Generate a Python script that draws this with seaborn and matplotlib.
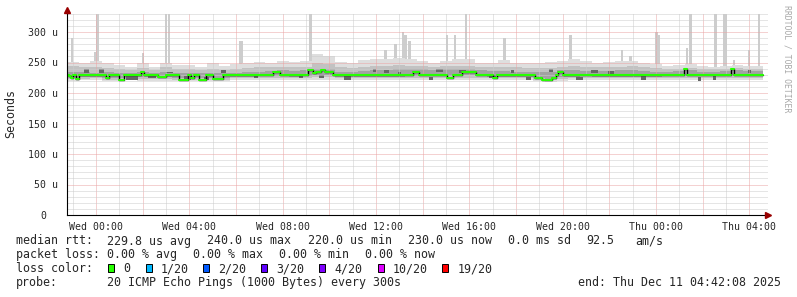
import numpy as np
import pandas as pd
import matplotlib
matplotlib.use("Agg")
import matplotlib.pyplot as plt
import seaborn as sns
from matplotlib.ticker import MultipleLocator, FixedLocator
from matplotlib.transforms import ScaledTranslation

# ---------------- data (hours relative to Wed 00:00, values in microseconds) ----------------
bin_start_hours = np.arange(-1.25, 28.75, 0.5)   # 30-minute smoke bins
data_end_hour = 28.6

light_lo = [220, 221, 221, 219, 219, 221, 220, 220, 220, 220,
            219, 219, 219, 220, 221, 221, 222, 222, 222, 221,
            222, 222, 222, 221, 221, 221, 221, 221, 221, 222,
            222, 222, 222, 222, 222, 222, 221, 221, 221, 221,
            219, 218, 220, 221, 222, 221, 221, 221, 221, 221,
            221, 222, 222, 222, 222, 222, 222, 222, 222, 222]
light_hi = [251, 250, 252, 249, 246, 243, 249, 243, 250, 246,
            246, 243, 249, 244, 247, 249, 251, 250, 252, 251,
            253, 264, 260, 251, 250, 254, 255, 256, 258, 256,
            252, 250, 252, 256, 255, 250, 250, 254, 250, 249,
            250, 251, 253, 256, 252, 250, 251, 252, 253, 250,
            248, 244, 246, 247, 244, 243, 245, 246, 245, 244]
mid_lo = [223, 223, 224, 222, 222, 224, 223, 223, 223, 222,
          222, 222, 222, 222, 224, 224, 225, 225, 225, 224,
          225, 226, 226, 224, 224, 224, 224, 224, 224, 225,
          225, 225, 225, 225, 225, 225, 224, 224, 224, 224,
          222, 221, 223, 224, 225, 224, 224, 224, 224, 224,
          224, 225, 225, 225, 225, 225, 225, 225, 225, 225]
mid_hi = [244, 242, 243, 241, 240, 238, 241, 238, 242, 240,
          239, 238, 240, 238, 240, 241, 242, 242, 243, 242,
          243, 250, 248, 242, 241, 243, 244, 245, 246, 245,
          244, 243, 244, 245, 245, 243, 242, 243, 242, 241,
          241, 241, 243, 244, 243, 242, 242, 243, 244, 242,
          241, 239, 240, 241, 239, 239, 240, 241, 240, 240]
dark_lo = [225, 226, 227, 225, 224, 227, 226, 226, 226, 225,
           224, 224, 224, 225, 227, 227, 228, 228, 228, 227,
           228, 230, 229, 227, 227, 227, 227, 227, 227, 228,
           228, 228, 228, 228, 229, 228, 227, 227, 227, 227,
           224, 223, 226, 227, 228, 227, 227, 227, 227, 227,
           227, 228, 228, 228, 228, 228, 228, 228, 228, 228]
dark_hi = [235, 234, 233, 235, 233, 232, 235, 233, 234, 233,
           232, 232, 233, 232, 233, 234, 235, 236, 237, 236,
           238, 240, 239, 235, 235, 236, 237, 238, 239, 239,
           239, 238, 239, 240, 240, 238, 236, 236, 235, 235,
           234, 234, 237, 237, 236, 236, 236, 237, 237, 236,
           235, 235, 236, 237, 235, 235, 236, 237, 236, 236]

# darkest smoke patches: start hour, end hour, low, high
patch_start = [-0.50, 0.14, 1.29, 2.21, 3.00, 3.79, 4.64, 5.36, 6.79, 8.71,
               9.57, 10.64, 11.86, 12.36, 12.93, 14.29, 14.57, 15.57, 16.86, 17.79,
               18.43, 19.43, 20.57, 21.21, 21.93, 23.36, 25.79, 26.43, 27.93]
patch_end = [-0.29, 0.36, 1.79, 2.57, 3.29, 4.07, 4.86, 5.57, 6.93, 8.86,
             9.79, 10.93, 12.00, 12.57, 13.07, 14.43, 14.86, 15.86, 17.14, 17.93,
             18.64, 19.57, 20.86, 21.50, 22.21, 23.57, 25.93, 26.57, 28.07]
patch_lo = [232, 232, 221, 224, 232, 222, 221, 232, 224, 224,
            224, 221, 235, 232, 231, 221, 235, 232, 224, 232,
            221, 235, 222, 232, 231, 221, 220, 221, 232]
patch_hi = [239, 239, 228, 230, 235, 228, 227, 238, 228, 228,
            229, 228, 240, 238, 235, 227, 240, 238, 229, 238,
            227, 240, 227, 238, 236, 228, 227, 228, 238]

spike_hours = [-1.03, -0.02, 0.06, 2.01, 3.0, 3.13, 6.17, 6.26, 9.2, 12.41,
               12.84, 13.16, 13.27, 13.44, 15.04, 15.39, 15.86, 17.51, 20.34, 22.55,
               22.91, 24.02, 24.13, 25.33, 25.48, 26.55, 26.91, 26.99, 27.33, 27.99, 28.42]
spike_tops = [290, 268, 330, 265, 330, 330, 285, 285, 330, 270,
              280, 300, 295, 285, 295, 295, 330, 290, 295, 270,
              260, 300, 295, 274, 330, 330, 330, 330, 254, 270, 330]

median_change_hours = [-1.243, -1.17, -1.07, -0.97, -0.86, -0.74, 0.43, 0.56, 1.0, 1.2,
                       1.93, 2.06, 2.64, 3.0, 3.56, 3.94, 4.07, 4.2, 4.4, 4.7,
                       5.0, 5.44, 7.6, 7.9, 9.1, 9.3, 9.45, 9.65, 9.8, 10.15,
                       13.6, 13.85, 15.05, 15.3, 15.7, 16.3, 17.0, 17.2, 18.8, 19.1,
                       19.4, 19.55, 19.7, 19.8, 20.0, 25.2, 25.35, 27.2, 27.35]
median_values = [230, 228, 224, 229, 223, 230, 225, 230, 221, 230,
                 235, 230, 227, 230, 222, 230, 224, 230, 222, 230,
                 223, 230, 235, 230, 237, 233, 235, 238, 235, 230,
                 235, 230, 225, 230, 235, 230, 225, 230, 224, 222,
                 221, 225, 230, 235, 230, 239, 230, 239, 230]

x_tick_hours = [0, 4, 8, 12, 16, 20, 24, 28]
x_tick_labels = ["Wed 00:00", "Wed 04:00", "Wed 08:00", "Wed 12:00",
                 "Wed 16:00", "Wed 20:00", "Thu 00:00", "Thu 04:00"]
y_ticks = [0, 50, 100, 150, 200, 250, 300]
y_tick_labels = ["0", "50 u", "100 u", "150 u", "200 u", "250 u", "300 u"]

rtt_items = ["median rtt:", "229.8 us avg", "240.0 us max", "220.0 us min",
             "230.0 us now", "0.0 ms sd", "92.5", "am/s"]
loss_items = ["packet loss:", "0.00 % avg", "0.00 % max", "0.00 % min", "0.00 % now"]
loss_labels = ["0", "1/20", "2/20", "3/20", "4/20", "10/20", "19/20"]
loss_colors = ["#26ff00", "#00b8ff", "#0059ff", "#5e00ff", "#7e00ff", "#dd00ff", "#ff0000"]
probe_text = "20 ICMP Echo Pings (1000 Bytes) every 300s"
end_text = "end: Thu Dec 11 04:42:08 2025"

# ---------------- figure ----------------
sns.set_style("white")
plt.rcParams["font.family"] = ["DejaVu Sans Mono"]

W, H = 797, 297
fig = plt.figure(figsize=(W / 100, H / 100), dpi=100)
fig.patch.set_facecolor("white")

def fx(px):
    return px / W

def fy(py):
    return 1 - py / H

ax = fig.add_axes([fx(67), fy(215), 701 / W, (215 - 13.7) / H])
ax.set_facecolor("white")
x0 = -1.243
ax.set_xlim(x0, x0 + 701 / 23.333)
ax.set_ylim(0, 330)

# smoke
edges = np.append(bin_start_hours, data_end_hour)
def ext(a):
    return np.append(np.asarray(a, float), a[-1])

ax.bar(spike_hours, np.asarray(spike_tops) - 235, bottom=235, width=6 / 60,
       color="#cdcdcd", lw=0, align="center", zorder=1.1)
ax.fill_between(edges, ext(light_lo), ext(light_hi), step="post", color="#dedede", lw=0, zorder=1.2)
ax.fill_between(edges, ext(mid_lo), ext(mid_hi), step="post", color="#c2c2c2", lw=0, zorder=1.3)
ax.fill_between(edges, ext(dark_lo), ext(dark_hi), step="post", color="#a2a2a2", lw=0, zorder=1.4)
ax.bar(patch_start, np.asarray(patch_hi) - np.asarray(patch_lo), bottom=patch_lo,
       width=np.asarray(patch_end) - np.asarray(patch_start), align="edge",
       color="#666666", lw=0, zorder=1.5)

# grid (dotted, drawn over the smoke)
ax.xaxis.set_major_locator(MultipleLocator(2))
ax.xaxis.set_minor_locator(MultipleLocator(1))
ax.yaxis.set_major_locator(FixedLocator(y_ticks))
ax.yaxis.set_minor_locator(MultipleLocator(10))
ax.grid(which="minor", color="#cccccc", lw=0.72, ls=(0, (1, 1)), zorder=2)
ax.grid(which="major", color="#eba4a4", lw=0.72, ls=(0, (1, 1)), zorder=2)
ax.set_axisbelow(False)
for gl in ax.get_xgridlines() + ax.get_ygridlines():
    gl.set_zorder(2)

# median: black step line + green horizontal segments
med_h = list(median_change_hours) + [data_end_hour]
med_v = list(median_values) + [median_values[-1]]
sns.lineplot(x=med_h, y=med_v, drawstyle="steps-post", color="black", lw=1.0,
             estimator=None, sort=False, ax=ax, zorder=3)
seg_rows = []
for i, v in enumerate(median_values):
    seg_rows.append((i, med_h[i], v))
    seg_rows.append((i, med_h[i + 1], v))
seg_df = pd.DataFrame(seg_rows, columns=["seg", "h", "v"])
sns.lineplot(data=seg_df, x="h", y="v", units="seg", estimator=None, sort=False,
             color="#26ff00", lw=1.5, ax=ax, legend=False, zorder=4)
ax.set_xlabel("")
ax.set_ylabel("")

# ticks
xt = list(range(0, 29, 2))
ax.set_xticks(xt)
ax.set_xticklabels([x_tick_labels[x_tick_hours.index(t)] if t in x_tick_hours else "" for t in xt])
ax.set_yticks(y_ticks)
ax.set_yticklabels(y_tick_labels)
ax.tick_params(axis="both", which="major", length=2, width=0.7, color="black",
               labelsize=7.1, direction="out")
ax.tick_params(axis="x", pad=3)
ax.tick_params(axis="y", pad=4.6)
ax.tick_params(which="minor", length=0)
zl = ax.get_yticklabels()[0]
zl.set_transform(zl.get_transform() + ScaledTranslation(-11.6 / 100, 0, fig.dpi_scale_trans))

for s in ["top", "right"]:
    ax.spines[s].set_visible(False)
for s in ["left", "bottom"]:
    ax.spines[s].set_color("black")
    ax.spines[s].set_linewidth(0.8)
    ax.spines[s].set_zorder(5)

# axis extensions + arrows
ax.plot([0, 0], [1.0, 1.015], color="black", lw=0.8, transform=ax.transAxes, clip_on=False, zorder=5)
ax.plot([0], [1.02], marker="^", ms=4, color="#990000", transform=ax.transAxes, clip_on=False, zorder=6)
ax.plot([1.0], [0], marker=">", ms=4, color="#990000", transform=ax.transAxes, clip_on=False, zorder=6)

# labels
fig.text(fx(10.7), fy(114), "Seconds", rotation=90, ha="center", va="center", fontsize=8.4)
fig.text(fx(787), fy(59), "RRDTOOL / TOBI OETIKER", rotation=270, ha="center", va="center",
         fontsize=5.9, color="#a8a8a8")

# legend
fs = 8.4
rtt_x = [16, 107.3, 207.3, 307.5, 407.8, 507.5, 586.5, 635.5]
for t, px in zip(rtt_items, rtt_x):
    fig.text(fx(px), fy(244.5), t, fontsize=fs, va="baseline", ha="left")
loss_x = [16, 107.3, 193.3, 279.3, 365.3]
for t, px in zip(loss_items, loss_x):
    fig.text(fx(px), fy(258.3), t, fontsize=fs, va="baseline", ha="left")
fig.text(fx(16), fy(272.1), "loss color:", fontsize=fs, va="baseline", ha="left")
box_x = [108.3, 145.7, 203.3, 261.0, 319.3, 377.7, 442.3]
for lab, col, bx in zip(loss_labels, loss_colors, box_x):
    fig.patches.append(plt.Rectangle((fx(bx), fy(272.3)), 6 / W, 8 / H, transform=fig.transFigure,
                                     facecolor=col, edgecolor="black", lw=0.7))
    fig.text(fx(bx + 15), fy(272.1), lab, fontsize=fs, va="baseline", ha="left")
fig.text(fx(16), fy(286), "probe:", fontsize=fs, va="baseline", ha="left")
fig.text(fx(107.3), fy(286), probe_text, fontsize=fs, va="baseline", ha="left")
fig.text(fx(578.5), fy(286), end_text, fontsize=fs, va="baseline", ha="left")

fig.savefig("out.png", dpi=100, facecolor="white")
